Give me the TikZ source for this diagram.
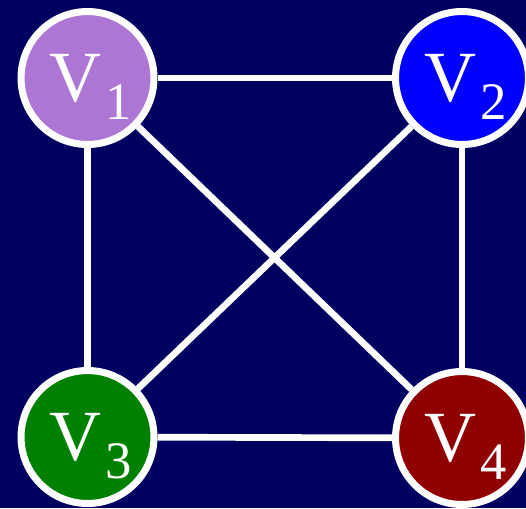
\documentclass[tikz,border=0pt]{standalone}
\usepackage{fontspec}
\setmainfont{Liberation Serif}
\definecolor{navybg}{RGB}{0,0,96}
\definecolor{lilac}{RGB}{173,118,212}
\definecolor{vblue}{RGB}{0,0,255}
\definecolor{vgreen}{RGB}{0,128,0}
\definecolor{vred}{RGB}{144,0,0}
\newcommand{\vname}[1]{\hspace*{0.14cm}\fontsize{41}{41}\selectfont V\hspace{0.08cm}%
  \raisebox{-0.36cm}[0pt][0pt]{\fontsize{30}{30}\selectfont #1}}
\begin{document}
\begin{tikzpicture}[x=0.02cm,y=-0.02cm,
    vertex/.style={circle,draw=white,line width=4pt,minimum size=2.66cm,
      inner sep=0pt,text=white},
    link/.style={draw=white,line width=3.8pt}]
    \useasboundingbox (0,0) rectangle (526,508);
    \fill[navybg] (0,0) rectangle (526,508);
    % the four vertices
    \node[vertex,fill=lilac] (v1) at (87.5,78) {\vname{1}};
    \node[vertex,fill=vblue] (v2) at (462,78) {\vname{2}};
    \node[vertex,fill=vgreen] (v3) at (87.5,437) {\vname{3}};
    \node[vertex,fill=vred] (v4) at (462,438) {\vname{4}};
    % complete graph on four vertices
    \draw[link] (v1) -- (v2);
    \draw[link] (v1) -- (v3);
    \draw[link] (v2) -- (v4);
    \draw[link] (v3) -- (v4);
    \draw[link] (v1) -- (v4);
    \draw[link] (v2) -- (v3);
\end{tikzpicture}
\end{document}
